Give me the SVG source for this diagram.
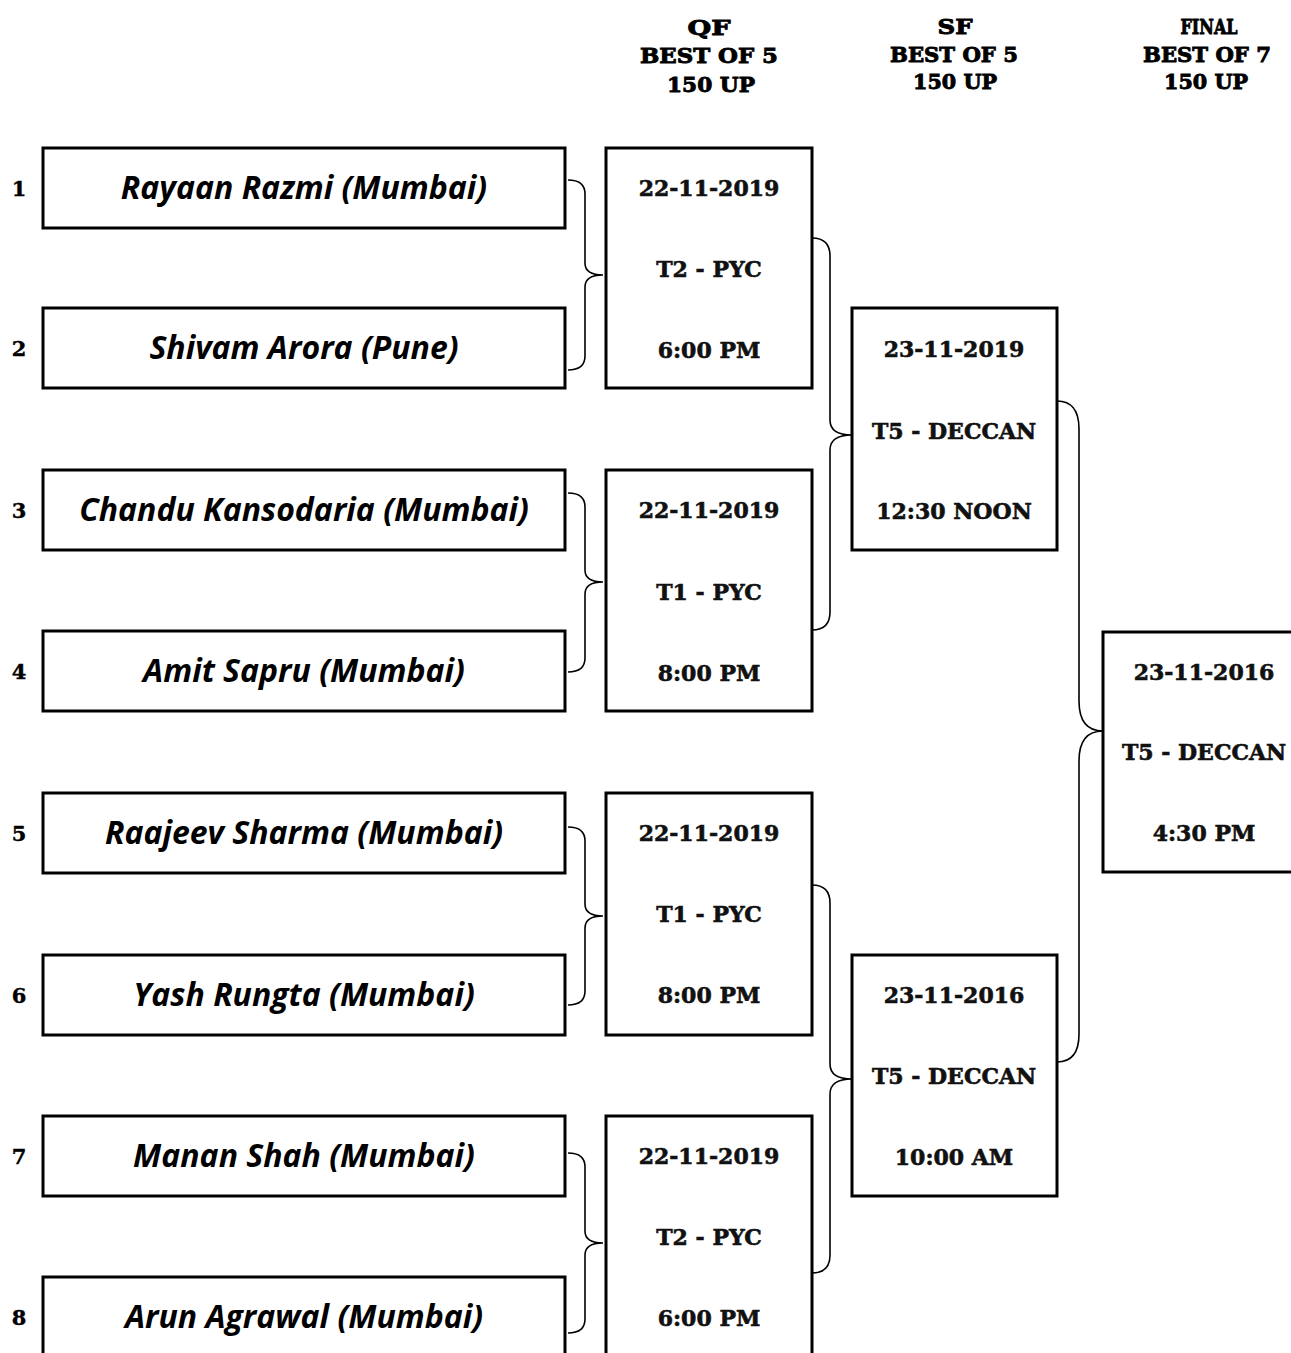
<svg xmlns="http://www.w3.org/2000/svg" width="1291" height="1353" viewBox="0 0 1291 1353">
<style>
.box{fill:#fff;stroke:#000;stroke-width:3}
.name{font-family:"Open Sans","Liberation Sans",sans-serif;font-weight:bold;font-style:italic;font-size:32px;text-anchor:middle;fill:#000}
.num{font-family:"DejaVu Serif","Liberation Serif",serif;font-weight:bold;font-size:21px;text-anchor:middle;fill:#000;stroke:#000;stroke-width:0.4}
.info{font-family:"DejaVu Serif","Liberation Serif",serif;font-weight:bold;font-size:22px;text-anchor:middle;fill:#111;stroke:#111;stroke-width:0.6}
.hdr{font-family:"DejaVu Serif","Liberation Serif",serif;font-weight:bold;font-size:21px;text-anchor:middle;fill:#000;stroke:#000;stroke-width:0.9}
.brace{fill:none;stroke:#000;stroke-width:1.6}
</style>
<rect width="1291" height="1353" fill="#fff"/>
<g id="headers">
<g id="hdr-qf">
<text class="hdr" x="709" y="35" textLength="43" lengthAdjust="spacingAndGlyphs">QF</text>
<text class="hdr" x="709" y="63" textLength="138" lengthAdjust="spacingAndGlyphs">BEST OF 5</text>
<text class="hdr" x="711" y="92" textLength="88" lengthAdjust="spacingAndGlyphs">150 UP</text>
</g>
<g id="hdr-sf">
<text class="hdr" x="955" y="34" textLength="35" lengthAdjust="spacingAndGlyphs">SF</text>
<text class="hdr" x="954" y="62" textLength="128" lengthAdjust="spacingAndGlyphs">BEST OF 5</text>
<text class="hdr" x="955" y="89" textLength="84" lengthAdjust="spacingAndGlyphs">150 UP</text>
</g>
<g id="hdr-final">
<text class="hdr" x="1209" y="34" textLength="57" lengthAdjust="spacingAndGlyphs">FINAL</text>
<text class="hdr" x="1207" y="62" textLength="128" lengthAdjust="spacingAndGlyphs">BEST OF 7</text>
<text class="hdr" x="1206" y="89" textLength="84" lengthAdjust="spacingAndGlyphs">150 UP</text>
</g>
</g>
<g id="players">
<g id="p1"><text class="num" x="19" y="196">1</text><rect class="box" x="43" y="148" width="522" height="80"/><text class="name" x="304" y="199">Rayaan Razmi (Mumbai)</text></g>
<g id="p2"><text class="num" x="19" y="356">2</text><rect class="box" x="43" y="308" width="522" height="80"/><text class="name" x="304" y="359">Shivam Arora (Pune)</text></g>
<g id="p3"><text class="num" x="19" y="518">3</text><rect class="box" x="43" y="470" width="522" height="80"/><text class="name" x="304" y="521">Chandu Kansodaria (Mumbai)</text></g>
<g id="p4"><text class="num" x="19" y="679">4</text><rect class="box" x="43" y="631" width="522" height="80"/><text class="name" x="304" y="682">Amit Sapru (Mumbai)</text></g>
<g id="p5"><text class="num" x="19" y="841">5</text><rect class="box" x="43" y="793" width="522" height="80"/><text class="name" x="304" y="844">Raajeev Sharma (Mumbai)</text></g>
<g id="p6"><text class="num" x="19" y="1003">6</text><rect class="box" x="43" y="955" width="522" height="80"/><text class="name" x="304" y="1006">Yash Rungta (Mumbai)</text></g>
<g id="p7"><text class="num" x="19" y="1164">7</text><rect class="box" x="43" y="1116" width="522" height="80"/><text class="name" x="304" y="1167">Manan Shah (Mumbai)</text></g>
<g id="p8"><text class="num" x="19" y="1325">8</text><rect class="box" x="43" y="1277" width="522" height="80"/><text class="name" x="304" y="1328">Arun Agrawal (Mumbai)</text></g>
</g>
<g id="qf">
<g id="qf1"><rect class="box" x="606" y="148" width="206" height="240"/>
<text class="info" x="709" y="196">22-11-2019</text><text class="info" x="709" y="277">T2 - PYC</text><text class="info" x="709" y="358">6:00 PM</text></g>
<g id="qf2"><rect class="box" x="606" y="470" width="206" height="241"/>
<text class="info" x="709" y="518">22-11-2019</text><text class="info" x="709" y="600">T1 - PYC</text><text class="info" x="709" y="681">8:00 PM</text></g>
<g id="qf3"><rect class="box" x="606" y="793" width="206" height="242"/>
<text class="info" x="709" y="841">22-11-2019</text><text class="info" x="709" y="922">T1 - PYC</text><text class="info" x="709" y="1003">8:00 PM</text></g>
<g id="qf4"><rect class="box" x="606" y="1116" width="206" height="245"/>
<text class="info" x="709" y="1164">22-11-2019</text><text class="info" x="709" y="1245">T2 - PYC</text><text class="info" x="709" y="1326">6:00 PM</text></g>
</g>
<g id="sf">
<g id="sf1"><rect class="box" x="852" y="308" width="205" height="242"/>
<text class="info" x="954" y="357">23-11-2019</text><text class="info" x="954" y="439">T5 - DECCAN</text><text class="info" x="954" y="519">12:30 NOON</text></g>
<g id="sf2"><rect class="box" x="852" y="955" width="205" height="241"/>
<text class="info" x="954" y="1003">23-11-2016</text><text class="info" x="954" y="1084">T5 - DECCAN</text><text class="info" x="954" y="1165">10:00 AM</text></g>
</g>
<g id="final">
<rect class="box" x="1103" y="632" width="205" height="240"/>
<text class="info" x="1204" y="680">23-11-2016</text><text class="info" x="1204" y="760">T5 - DECCAN</text><text class="info" x="1204" y="841">4:30 PM</text>
</g>
<g id="connectors">
<path class="brace" d="M568 180 Q585 180 585 194 L585 263 Q585 275 603 275 Q585 275 585 287 L585 356 Q585 370 568 370"/>
<path class="brace" d="M568 493 Q585 493 585 507 L585 570 Q585 582 603 582 Q585 582 585 594 L585 658 Q585 672 568 672"/>
<path class="brace" d="M568 827 Q585 827 585 841 L585 904 Q585 916 603 916 Q585 916 585 928 L585 991 Q585 1005 568 1005"/>
<path class="brace" d="M568 1153 Q585 1153 585 1167 L585 1231 Q585 1243 603 1243 Q585 1243 585 1255 L585 1319 Q585 1333 568 1333"/>
<path class="brace" d="M812 238 Q830 238 830 256 L830 420 Q830 435 852 435 Q830 435 830 450 L830 612 Q830 630 812 630"/>
<path class="brace" d="M812 885 Q830 885 830 903 L830 1064 Q830 1079 852 1079 Q830 1079 830 1094 L830 1255 Q830 1273 812 1273"/>
<path class="brace" d="M1057 401 Q1079 401 1079 429 L1079 701 Q1079 731 1103 731 Q1079 731 1079 761 L1079 1034 Q1079 1062 1057 1062"/>
</g>
</svg>
